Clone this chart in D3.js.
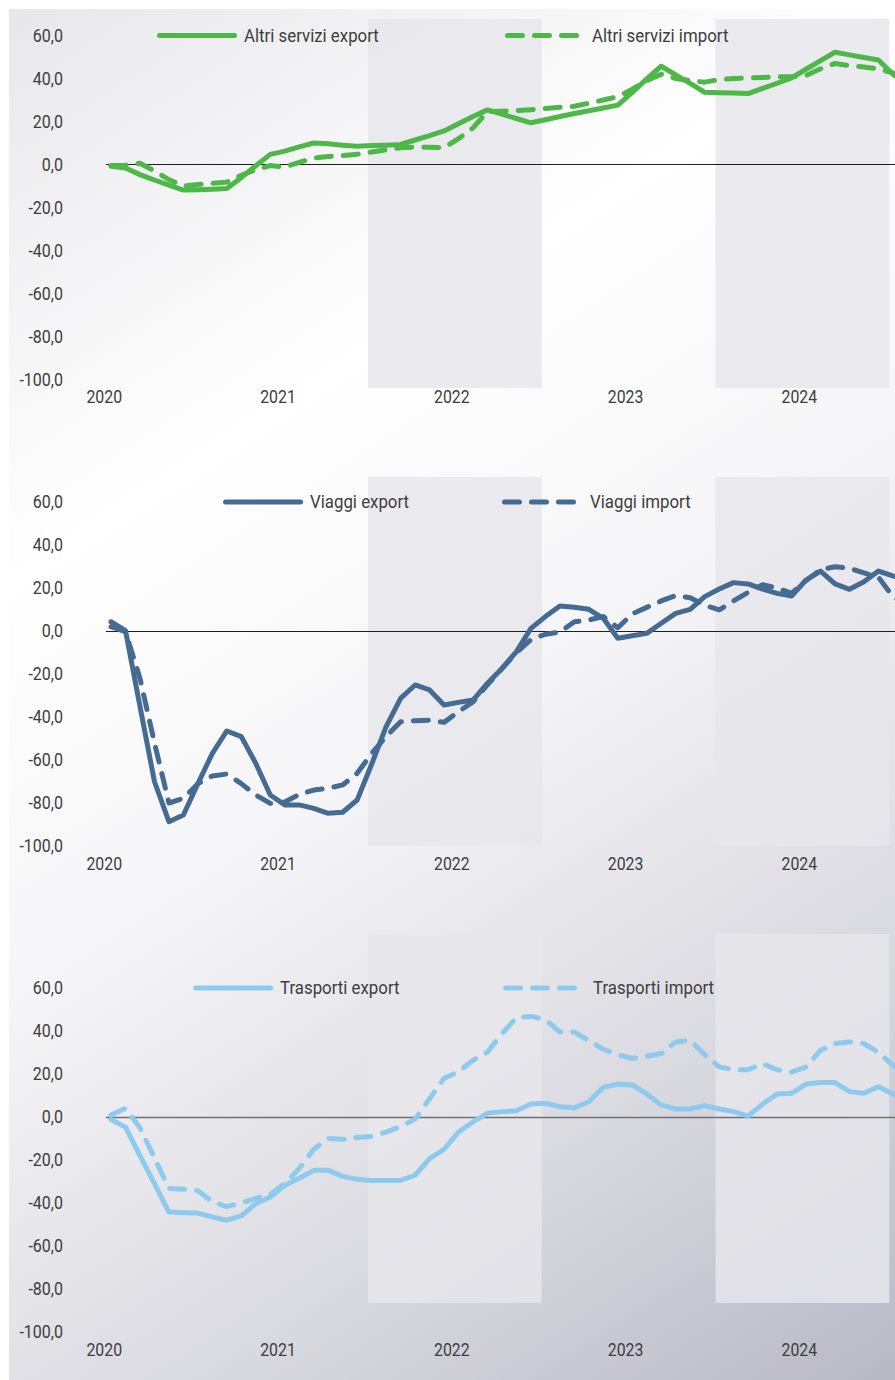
<!DOCTYPE html>
<html>
<head>
<meta charset="utf-8">
<script src="https://cdn.jsdelivr.net/npm/d3@7"></script>
<style>
  body { margin: 0; background: #ffffff; }
  svg { display: block; }
  text { font-family: Roboto, "Noto Sans", sans-serif; fill: #3d3d3d; }
</style>
</head>
<body>
<div id="chart"></div>
<script>
const WIDTH = 895;
const HEIGHT = 1380;

// monthly values, Jan 2020 onwards (index 0 = Jan 2020)
const YEARS = ["2020", "2021", "2022", "2023", "2024"];
const YEAR_TICKS = [-0.5, 11.5, 23.5, 35.5, 47.5];
const Y_TICKS = [60, 40, 20, 0, -20, -40, -60, -80, -100];
const BANDS = [[17.75, 29.75], [41.75, 53.75]];

const ALTRI_EXPORT = [-0.8, -1.6, -4.7, -7.2, -9.6, -11.9, -11.7, -11.5, -11.2, -6, -0.6, 4.7,
  6.2, 8.2, 10, 9.6, 9, 8.5, 8.8, 9, 9.3, 11.4, 13.4, 15.6,
  19, 22.3, 25.4, 23.4, 21.4, 19.4, 20.8, 22.3, 23.7, 25, 26.3, 27.6,
  33.6, 39.8, 45.7, 41.7, 37.7, 33.6, 33.4, 33.2, 33, 35.4, 37.8, 40.3,
  44.3, 48.3, 52.2, 51, 49.8, 48.6, 42, 37];
const ALTRI_IMPORT = [-0.5, -0.3, 0.6, -3, -7, -10, -9.3, -8.8, -8.2, -5, -2.5, -0.5,
  -1.2, 1, 3, 3.7, 4.2, 4.8, 5.8, 6.8, 7.8, 8.1, 8, 7.8,
  12, 17, 24.6, 24.8, 25, 25.5, 26, 26.6, 27.1, 28.5, 30, 31.5,
  35, 39, 42, 40, 39, 38.3, 39.5, 40, 40.3, 40.5, 40.8, 40.8,
  41.4, 44.5, 47, 46, 45.3, 44.5, 42.6, 40];

const VIAGGI_EXPORT = [4.3, 0.2, -35, -70, -88.7, -85.6, -71, -56.9, -46.5, -49.1, -61.6, -76.3,
  -80.9, -80.9, -82.5, -84.8, -84.3, -78.6, -62, -44.5, -31.3, -25.1, -27.4, -34.4,
  -33.2, -32.1, -24.3, -17.4, -9.6, 1.2, 6.7, 11.6, 11, 10.1, 5.9, -3.4,
  -2.2, -1.1, 3.6, 8.2, 10.1, 16, 19.5, 22.5, 21.9, 19.5, 17.5, 16.3,
  23.7, 27.9, 21.9, 19.4, 22.9, 27.9, 25.6, 24];
const VIAGGI_IMPORT = [2, -0.3, -22, -52, -80, -77.8, -71, -67.4, -66.5, -71, -76.3, -80.2,
  -79.5, -76, -74, -73.2, -71.6, -66.2, -56.9, -49.1, -42.2, -41.7, -41.5, -42.5,
  -37.5, -33, -25, -17.5, -10, -4, -1.5, -0.5, 4.3, 5.1, 6.7, 1.5,
  8, 11, 14, 16.5, 15.5, 12, 9.8, 14, 18, 21.5, 20, 17.5,
  23.5, 28.5, 29.9, 29.2, 27, 25, 16, 12];

const TRASPORTI_EXPORT = [-1.2, -4.7, -18, -31, -44.2, -44.5, -44.7, -46.5, -48, -46, -40.3, -37.2,
  -31.8, -28.5, -24.8, -24.8, -27.6, -29, -29.5, -29.5, -29.5, -27.1, -19.4, -15,
  -7, -2.3, 1.8, 2.5, 2.9, 6, 6.4, 4.8, 4.3, 7.1, 13.8, 15.3,
  14.9, 10.7, 5.6, 3.7, 3.7, 5.3, 3.7, 2.5, 0.5, 6, 10.7, 11,
  15.3, 16, 16, 11.8, 11, 14.1, 10.7, 8];
const TRASPORTI_IMPORT = [0.9, 4, -5, -19, -33.2, -33.6, -34.3, -39.4, -41.7, -40, -37.8, -36,
  -31, -24, -15, -10, -10.4, -9.5, -9, -7, -4.5, -1, 8.5, 18,
  21, 26.4, 30.2, 38.8, 46.2, 46.8, 45.3, 39.5, 39.5, 35.5, 31.5, 29,
  27.2, 28.3, 29.5, 34.9, 35.7, 29, 23.3, 22, 22, 24.8, 22, 20.9,
  23.3, 31, 34.1, 34.9, 34.1, 30, 24, 20];

const PANELS = [
  { names: ["Altri servizi export", "Altri servizi import"], exp: ALTRI_EXPORT, imp: ALTRI_IMPORT,
    color: "#4db748", top: 35.5, bandTop: -16.5, zero: "#1e1e1e", zeroW: 1,
    legend: [157, 244, 505, 592] },
  { names: ["Viaggi export", "Viaggi import"], exp: VIAGGI_EXPORT, imp: VIAGGI_IMPORT,
    color: "#456b93", top: 502, bandTop: -25, zero: "#1e1e1e", zeroW: 1,
    legend: [223, 310, 502, 590] },
  { names: ["Trasporti export", "Trasporti import"], exp: TRASPORTI_EXPORT, imp: TRASPORTI_IMPORT,
    color: "#8dcaee", top: 988, bandTop: -54, zero: "#707070", zeroW: 1.6,
    legend: [193, 280, 503, 593] }
];

const PLOT_H = 344;
const BAND_H = 369;
const DASH = "15,12";

const itFormat = d3.formatLocale({ decimal: ",", thousands: ".", grouping: [3], currency: ["€", ""], minus: "-" }).format(".1f");

const svg = d3.select("#chart").append("svg")
  .attr("width", WIDTH)
  .attr("height", HEIGHT);

// background gradient
const defs = svg.append("defs");
const grad = defs.append("linearGradient")
  .attr("id", "bg")
  .attr("gradientUnits", "userSpaceOnUse")
  .attr("x1", 0).attr("y1", 0).attr("x2", WIDTH).attr("y2", HEIGHT);
[[0, "#e7e7eb"], [0.3, "#ffffff"], [0.52, "#f5f5f7"], [0.78, "#d8d8df"], [1, "#b9b9c6"]]
  .forEach(s => grad.append("stop").attr("offset", s[0]).attr("stop-color", s[1]));

svg.append("rect")
  .attr("x", 9).attr("y", 9)
  .attr("width", WIDTH - 9).attr("height", HEIGHT - 9)
  .attr("fill", "url(#bg)");

const x = d3.scaleLinear()
  .domain([0, 55])
  .range([111, 111 + 55 * 14.48]);

// shrink text a bit, the original font is a condensed one
function condense(sel, k) {
  sel.each(function () {
    const w = this.getComputedTextLength();
    d3.select(this).attr("textLength", w * k).attr("lengthAdjust", "spacingAndGlyphs");
  });
}

PANELS.forEach((p) => {
  const y = d3.scaleLinear()
    .domain([-100, 60])
    .range([p.top + PLOT_H, p.top]);

  const g = svg.append("g");

  // shaded bands
  g.selectAll("rect.band")
    .data(BANDS)
    .enter()
    .append("rect")
    .attr("class", "band")
    .attr("x", d => x(d[0]))
    .attr("width", d => x(d[1]) - x(d[0]))
    .attr("y", p.top + p.bandTop)
    .attr("height", BAND_H)
    .attr("fill", "#e7e7ec")
    .attr("opacity", 0.82);

  // y axis
  const yAxis = g.append("g")
    .attr("transform", "translate(66,0)")
    .call(d3.axisLeft(y).tickValues(Y_TICKS).tickFormat(itFormat).tickSize(0).tickPadding(3));
  yAxis.select(".domain").remove();
  yAxis.selectAll("text")
    .attr("font-size", "18px")
    .attr("font-family", "Roboto")
    .attr("fill", "#3d3d3d")
    .call(condense, 0.89);

  // x axis (year labels)
  const xAxis = g.append("g")
    .attr("transform", "translate(0," + (p.top + PLOT_H + 8) + ")")
    .call(d3.axisBottom(x).tickValues(YEAR_TICKS).tickFormat((d, i) => YEARS[i]).tickSize(0));
  xAxis.select(".domain").remove();
  xAxis.selectAll("text")
    .attr("font-size", "18px")
    .attr("font-family", "Roboto")
    .attr("fill", "#3d3d3d")
    .call(condense, 0.88);

  // zero line, snapped to the pixel grid
  const zy = Math.floor(y(0)) + 0.5;
  g.append("line")
    .attr("x1", 106).attr("x2", WIDTH)
    .attr("y1", zy).attr("y2", zy)
    .attr("stroke", p.zero)
    .attr("stroke-width", p.zeroW);

  const line = d3.line()
    .x((d, i) => x(i))
    .y(d => y(d));

  g.append("path")
    .datum(p.imp)
    .attr("d", line)
    .attr("fill", "none")
    .attr("stroke", p.color)
    .attr("stroke-width", 5)
    .attr("stroke-dasharray", DASH)
    .attr("stroke-linecap", "round")
    .attr("stroke-linejoin", "round");

  g.append("path")
    .datum(p.exp)
    .attr("d", line)
    .attr("fill", "none")
    .attr("stroke", p.color)
    .attr("stroke-width", 5)
    .attr("stroke-linecap", "round")
    .attr("stroke-linejoin", "round");

  // legend
  const ly = p.top;
  const L = p.legend;
  g.append("line")
    .attr("x1", L[0] + 2.5).attr("x2", L[0] + 77.5)
    .attr("y1", ly).attr("y2", ly)
    .attr("stroke", p.color).attr("stroke-width", 5).attr("stroke-linecap", "round");
  g.append("text")
    .attr("x", L[1]).attr("y", ly).attr("dy", "0.35em")
    .attr("font-size", "18px")
    .text(p.names[0])
    .call(condense, 0.935);
  g.append("line")
    .attr("x1", L[2] + 2.5).attr("x2", L[2] + 71.5)
    .attr("y1", ly).attr("y2", ly)
    .attr("stroke", p.color).attr("stroke-width", 5).attr("stroke-linecap", "round")
    .attr("stroke-dasharray", DASH);
  g.append("text")
    .attr("x", L[3]).attr("y", ly).attr("dy", "0.35em")
    .attr("font-size", "18px")
    .text(p.names[1])
    .call(condense, 0.935);
});
</script>
</body>
</html>
